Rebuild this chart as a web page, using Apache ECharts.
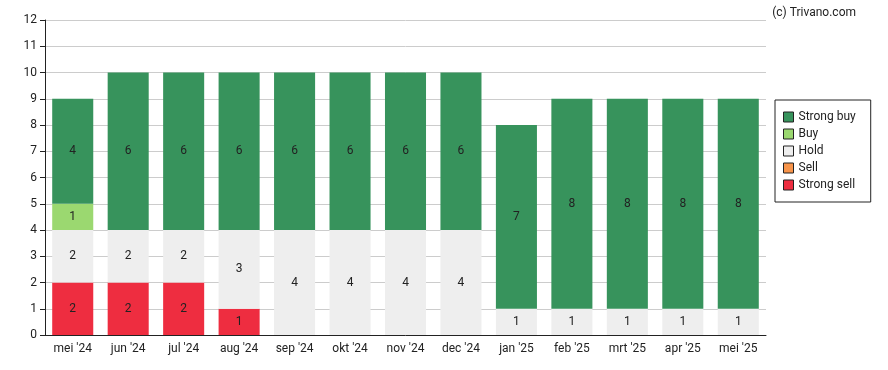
<!DOCTYPE html>
<html><head><meta charset="utf-8">
<script src="https://cdn.jsdelivr.net/npm/echarts@6/dist/echarts.min.js"></script>
<style>html,body{margin:0;padding:0;background:#fff}#c{width:888px;height:370px}</style>
</head><body><div id="c"></div>
<script>
const categories = ["mei '24","jun '24","jul '24","aug '24","sep '24","okt '24","nov '24","dec '24","jan '25","feb '25","mrt '25","apr '25","mei '25"];
const strongSell = [2,2,2,1,0,0,0,0,0,0,0,0,0];
const sell = [0,0,0,0,0,0,0,0,0,0,0,0,0];
const hold = [2,2,2,3,4,4,4,4,1,1,1,1,1];
const buy = [1,0,0,0,0,0,0,0,0,0,0,0,0];
const strongBuy = [4,6,6,6,6,6,6,6,7,8,8,8,8];
const yTicks = [0,1,2,3,4,5,6,7,8,9,10,11,12];

const colors = {
  'Strong buy':'#37935c','Buy':'#9bd870','Hold':'#eeeeee','Sell':'#f7944a','Strong sell':'#ee2d40'
};
function mk(name, data){
  return {name, type:'bar', stack:'a', data, barWidth:'74%',
    itemStyle:{color:colors[name]},
    label:{show:true, position:'inside', color:'#222', fontSize:12, fontFamily:'Roboto',
      formatter:p=>p.value>0?String(p.value):''}};
}
const chart = echarts.init(document.getElementById('c'));
chart.setOption({
  animation:false,
  textStyle:{fontFamily:'Roboto'},
  grid:{left:45,right:122,top:20,bottom:35},
  title:{text:'(c) Trivano.com', right:27, top:2, textStyle:{fontSize:12,fontWeight:'normal',color:'#222',fontFamily:'Roboto'}},
  legend:{orient:'vertical', left:775, top:100, data:['Strong buy','Buy','Hold','Sell','Strong sell'],
    icon:'rect', itemWidth:10, itemHeight:10, itemGap:5, borderColor:'#222', borderWidth:1,
    padding:[11,15,11,8], textStyle:{fontSize:12,color:'#222',fontFamily:'Roboto'},
    itemStyle:{borderColor:'#222',borderWidth:1}},
  xAxis:{type:'category', data:categories,
    axisLine:{lineStyle:{color:'#222'}}, axisTick:{alignWithLabel:true,lineStyle:{color:'#222'}},
    axisLabel:{color:'#222',fontSize:12,fontFamily:'Roboto',margin:8}},
  yAxis:{type:'value', min:yTicks[0], max:yTicks[yTicks.length-1], interval:1,
    axisLine:{show:true,lineStyle:{color:'#222'}}, axisTick:{show:true,length:5,lineStyle:{color:'#222'}},
    axisLabel:{color:'#222',fontSize:12,fontFamily:'Roboto',margin:8},
    splitLine:{lineStyle:{color:'#cccccc'}}},
  series:[mk('Strong sell',strongSell),mk('Sell',sell),mk('Hold',hold),mk('Buy',buy),mk('Strong buy',strongBuy)]
});
</script></body></html>
